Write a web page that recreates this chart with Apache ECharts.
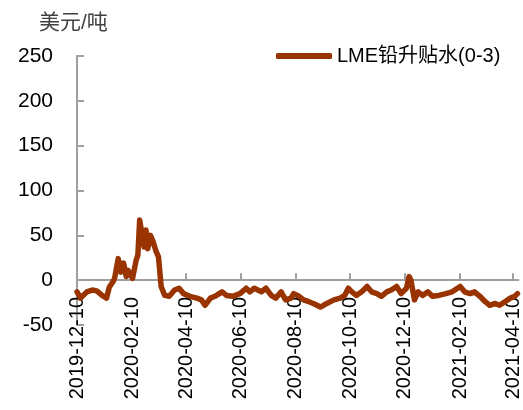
<!DOCTYPE html>
<html lang="zh">
<head>
<meta charset="utf-8">
<title>LME铅升贴水</title>
<script src="https://cdn.jsdelivr.net/npm/echarts@6/dist/echarts.min.js"></script>
<style>
  html, body { margin: 0; padding: 0; background: #fff; }
  #main { width: 523px; height: 410px; }
</style>
</head>
<body>
<div id="main"></div>
<script type="text/javascript">
// 数据：日期 与 LME铅升贴水(0-3)，美元/吨
var dates = [
    '2019-12-10', '2019-12-14', '2019-12-17', '2019-12-21', '2019-12-27', '2020-01-01',
    '2020-01-07', '2020-01-12', '2020-01-15', '2020-01-19', '2020-01-21', '2020-01-25',
    '2020-01-28', '2020-01-31', '2020-02-03', '2020-02-05', '2020-02-10', '2020-02-14',
    '2020-02-16', '2020-02-18', '2020-02-20', '2020-02-23', '2020-02-25', '2020-02-27',
    '2020-03-01', '2020-03-04', '2020-03-07', '2020-03-10', '2020-03-13', '2020-03-17',
    '2020-03-22', '2020-03-28', '2020-04-02', '2020-04-07', '2020-04-14', '2020-04-22',
    '2020-04-27', '2020-05-01', '2020-05-07', '2020-05-12', '2020-05-20', '2020-05-25',
    '2020-06-01', '2020-06-09', '2020-06-16', '2020-06-20', '2020-06-25', '2020-07-03',
    '2020-07-08', '2020-07-14', '2020-07-19', '2020-07-25', '2020-07-30', '2020-08-05',
    '2020-08-08', '2020-08-14', '2020-08-19', '2020-08-25', '2020-08-30', '2020-09-07',
    '2020-09-14', '2020-09-22', '2020-09-29', '2020-10-04', '2020-10-08', '2020-10-12',
    '2020-10-17', '2020-10-23', '2020-10-29', '2020-11-03', '2020-11-09', '2020-11-14',
    '2020-11-20', '2020-11-25', '2020-12-01', '2020-12-06', '2020-12-12', '2020-12-15',
    '2020-12-17', '2020-12-21', '2020-12-25', '2020-12-30', '2021-01-05', '2021-01-10',
    '2021-01-17', '2021-01-25', '2021-02-01', '2021-02-10', '2021-02-15', '2021-02-21',
    '2021-02-26', '2021-03-04', '2021-03-10', '2021-03-15', '2021-03-21', '2021-03-26',
    '2021-04-01', '2021-04-07', '2021-04-12', '2021-04-15'
];
var spread = [
    -13, -20, -17, -13, -11, -12,
    -17, -20, -8, -2, 2, 24,
    9, 19, 4, 11, 2, 22,
    28, 67, 66, 37, 56, 35,
    50, 43, 33, 26, -7, -17,
    -18, -11, -9, -15, -18, -20,
    -22, -28, -20, -18, -13, -17,
    -18, -15, -9, -13, -9, -13,
    -9, -17, -20, -13, -22, -20,
    -15, -18, -22, -24, -26, -30,
    -26, -22, -20, -17, -9, -13,
    -17, -13, -7, -13, -15, -18,
    -13, -11, -7, -15, -9, 4,
    0, -22, -13, -17, -13, -18,
    -17, -15, -13, -7, -13, -15,
    -13, -18, -24, -28, -26, -28,
    -24, -20, -18, -15
];
var xTicks = ['2019-12-10', '2020-02-10', '2020-04-10', '2020-06-10', '2020-08-10',
    '2020-10-10', '2020-12-10', '2021-02-10', '2021-04-10'];

var myChart = echarts.init(document.getElementById('main'));

var tickTimes = xTicks.map(function (d) { return +new Date(d + 'T00:00:00'); });
var seriesData = dates.map(function (d, i) { return [d + 'T00:00:00', spread[i]]; });

var option = {
    animation: false,
    textStyle: { fontFamily: 'Liberation Sans, Noto Sans CJK SC, sans-serif' },
    title: {
        text: '美元/吨',
        left: 34,
        top: 8,
        textStyle: { fontSize: 21, fontWeight: 'normal', color: '#404040',
            fontFamily: 'Liberation Sans, Noto Sans CJK SC, sans-serif' }
    },
    legend: {
        data: ['LME铅升贴水(0-3)'],
        left: 271,
        top: 41,
        icon: 'roundRect',
        itemWidth: 56,
        itemHeight: 6,
        itemGap: 2,
        textStyle: { fontSize: 20, color: '#000' }
    },
    grid: {
        left: 77,
        right: 0,
        top: 56,
        bottom: 85
    },
    xAxis: [{
        type: 'time',
        min: '2019-12-10T00:00:00',
        max: '2021-04-16T00:00:00',
        position: 'bottom',
        axisLine: { onZero: true, lineStyle: { color: '#a0a0a0', width: 2 } },
        axisTick: { show: true, inside: true, length: 7, customValues: tickTimes,
            lineStyle: { color: '#a0a0a0', width: 2 } },
        axisLabel: { show: false },
        splitLine: { show: false }
    }, {
        type: 'time',
        min: '2019-12-10T00:00:00',
        max: '2021-04-16T00:00:00',
        position: 'bottom',
        offset: -36,
        axisLine: { show: false, onZero: false },
        axisTick: { show: false },
        axisLabel: {
            customValues: tickTimes,
            rotate: 90,
            margin: 8,
            fontSize: 20,
            color: '#000',
            formatter: '{yyyy}-{MM}-{dd}',
            showMinLabel: true,
            showMaxLabel: true,
            hideOverlap: false
        },
        splitLine: { show: false }
    }],
    yAxis: {
        type: 'value',
        min: -50,
        max: 250,
        interval: 50,
        axisLine: { show: true, onZero: false, lineStyle: { color: '#a0a0a0', width: 2 } },
        axisTick: { show: true, inside: true, length: 7, lineStyle: { color: '#a0a0a0', width: 2 } },
        axisLabel: { fontSize: 21, color: '#000', margin: 24 },
        splitLine: { show: false }
    },
    series: [{
        name: 'LME铅升贴水(0-3)',
        type: 'line',
        xAxisIndex: 0,
        data: seriesData,
        showSymbol: false,
        symbol: 'none',
        lineStyle: { color: '#993300', width: 5.5, join: 'round', cap: 'round' },
        itemStyle: { color: '#993300' }
    }]
};

myChart.setOption(option);
</script>
</body>
</html>
